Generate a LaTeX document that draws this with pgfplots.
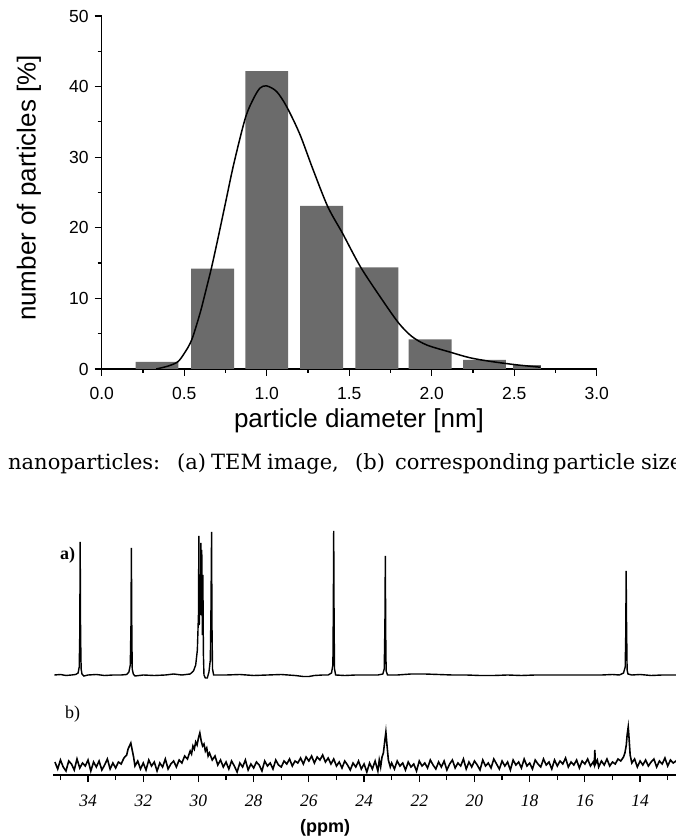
\documentclass[border=0pt]{standalone}
\usepackage{fontspec}
\setmainfont{Liberation Serif}
\newfontfamily\arial{Liberation Sans}
\newfontfamily\capfont{DejaVu Serif}
\usepackage{pgfplots}
\pgfplotsset{compat=1.18}

\begin{document}
\begin{tikzpicture}[x=1pt,y=1pt]
\useasboundingbox (0,0) rectangle (676,840);

% particle size histogram
\begin{axis}[
  at={(101.7pt,471pt)}, anchor=south west,
  scale only axis, width=495pt, height=353pt,
  xmin=0, xmax=3, ymin=0, ymax=50,
  axis lines*=left,
  axis line style={line width=1.3pt},
  tick align=outside,
  xtick={0,0.5,1,1.5,2,2.5,3},
  xticklabels={0.0,0.5,1.0,1.5,2.0,2.5,3.0},
  minor xtick={0.25,0.75,1.25,1.75,2.25,2.75},
  ytick={0,10,20,30,40,50},
  yticklabels={0,10,20,30,40,50},
  minor ytick={5,15,25,35,45},
  major tick length=7pt, minor tick length=4pt,
  tick style={line width=1.2pt, black},
  tick label style={font=\arial\fontsize{17.5}{17.5}\selectfont, inner sep=0pt},
  xticklabel shift=11pt, yticklabel shift=6pt,
  xlabel={particle diameter [nm]},
  ylabel={number of particles [\%]},
  every axis x label/.style={at={(axis description cs:0.5198,-0.1671)}, anchor=base,
    font=\arial\fontsize{26}{26}\selectfont},
  every axis y label/.style={at={(axis description cs:-0.1469,0.5127)}, rotate=90, anchor=center,
    font=\arial\fontsize{26}{26}\selectfont},
  clip=false,
]
\addplot[ybar, bar width=0.26, bar shift=0pt, fill=black!58, draw=none]
  coordinates {(0.335,1.0) (0.672,14.2) (1.0,42.2) (1.333,23.1) (1.668,14.4) (1.99,4.2) (2.32,1.3)};
\addplot[ybar, bar width=0.17, bar shift=0pt, fill=black!58, draw=none]
  coordinates {(2.575,0.5)};
\addplot[black, line width=1.5pt, smooth] coordinates {
  (0.33,0) (0.40,0.4) (0.46,1.0) (0.50,2.2) (0.545,4.1) (0.596,7.9) (0.63,11)
  (0.664,14.2) (0.70,18) (0.75,23.5) (0.80,29) (0.87,35.5) (0.92,38.3) (0.96,39.8)
  (1.0,40.1) (1.06,39.3) (1.12,37.2) (1.2,33.3) (1.28,28.3) (1.37,23) (1.46,19.2)
  (1.57,14.4) (1.70,9.8) (1.80,6.5) (1.88,4.6) (1.97,3.4) (2.11,2.4) (2.23,1.6)
  (2.35,1.1) (2.51,0.6) (2.66,0.25)
};
\end{axis}

% 13C NMR spectra
\begin{axis}[
  at={(53pt,65pt)}, anchor=south west,
  scale only axis, width=628.5pt, height=260pt,
  xmin=12.5, xmax=35.27, ymin=0, ymax=260,
  x dir=reverse,
  axis x line*=bottom, axis y line=none,
  axis line style={line width=1.4pt},
  xtick={14,16,18,20,22,24,26,28,30,32,34},
  xticklabels={14,16,18,20,22,24,26,28,30,32,34},
  minor xtick={13,15,17,19,21,23,25,27,29,31,33,35},
  xtick align=outside,
  major tick length=7pt, minor tick length=5pt,
  tick style={line width=1.2pt, black},
  xticklabel style={font=\itshape\fontsize{17.5}{17.5}\selectfont, inner sep=0pt},
  xticklabel shift=13pt,
  xlabel={(ppm)},
  every axis x label/.style={at={(axis description cs:0.4328,-0.223)}, anchor=base,
    font=\arial\bfseries\fontsize{18}{18}\selectfont},
  clip=false,
]
% a)
\addplot[black, line width=1.4pt] coordinates {
  (35.22,100) (35.0,100.5) (34.8,99.5) (34.6,100) (34.45,100.5) (34.36,102) (34.32,108)
  (34.30,140) (34.285,233) (34.27,140) (34.25,106) (34.22,101) (34.15,99) (34.0,100)
  (33.7,100.5) (33.4,99.5) (33.1,100) (32.8,100) (32.6,100.5) (32.52,103) (32.47,110)
  (32.445,150) (32.43,227) (32.415,150) (32.40,106) (32.36,101) (32.3,99) (32.0,100)
  (31.6,99.5) (31.2,100) (30.9,101) (30.6,100) (30.3,101) (30.18,104) (30.10,110)
  (30.04,125) (30.0,160) (29.985,239) (29.97,150) (29.95,190) (29.93,160) (29.91,232)
  (29.895,170) (29.88,225) (29.86,140) (29.84,200) (29.82,120) (29.80,100) (29.75,97)
  (29.68,97) (29.62,103) (29.57,115) (29.545,170) (29.525,243) (29.51,150) (29.49,106)
  (29.45,100) (29.0,100) (28.5,100.5) (28.0,99.5) (27.5,100) (27.0,100.5) (26.5,99.5)
  (26.2,98.5) (26.0,98.5) (25.8,99.5) (25.5,100) (25.3,100) (25.18,102) (25.13,110)
  (25.115,160) (25.10,244) (25.085,150) (25.07,106) (25.03,100) (24.7,99.5) (24.3,100)
  (23.9,100) (23.5,100) (23.32,101) (23.27,106) (23.245,150) (23.23,219) (23.215,140)
  (23.20,104) (23.15,100) (22.8,100) (22.3,101) (21.8,101) (21.3,100.5) (20.8,100)
  (20.3,100) (19.8,99.5) (19.3,99.5) (18.8,100) (18.3,99.5) (17.8,100) (17.3,100)
  (16.8,100) (16.3,100) (15.8,100) (15.4,100) (15.0,100.5) (14.75,100) (14.6,102)
  (14.54,108) (14.52,140) (14.505,204) (14.49,150) (14.47,105) (14.44,101) (14.3,100)
  (14.0,100.5) (13.6,99.5) (13.2,100) (12.8,100) (12.5,100)
};
% b)
\addplot[black, line width=1.6pt] coordinates {
  (35.2,13) (35.1,6) (35.0,15) (34.9,8) (34.8,4) (34.7,14) (34.6,11) (34.5,5) (34.4,16)
  (34.3,7) (34.2,12) (34.1,9) (34.0,15) (33.9,4) (33.8,13) (33.7,8) (33.6,14) (33.5,5)
  (33.4,10) (33.3,16) (33.2,6) (33.1,12) (33.0,7)
  (32.9,13) (32.8,11) (32.7,17) (32.6,20) (32.55,26) (32.5,29) (32.45,32) (32.4,25)
  (32.35,18) (32.3,9) (32.2,14) (32.1,6) (32.0,12)
  (31.9,5) (31.8,15) (31.7,9) (31.6,13) (31.5,4) (31.4,12) (31.3,8) (31.2,16) (31.1,6)
  (31.0,11) (30.9,14) (30.8,8)
  (30.7,15) (30.6,12) (30.5,19) (30.4,16) (30.3,24) (30.25,21) (30.2,29) (30.15,26)
  (30.1,33) (30.05,30) (30.0,37) (29.95,42) (29.9,34) (29.85,29) (29.8,31) (29.75,24)
  (29.7,27) (29.65,19) (29.6,22) (29.5,15) (29.4,19) (29.3,10) (29.2,15) (29.1,8) (29.0,13)
  (28.9,6) (28.8,14) (28.7,9) (28.6,3) (28.5,12) (28.4,8) (28.3,15) (28.2,5) (28.1,11)
  (28.0,7) (27.9,13) (27.8,10) (27.7,4) (27.6,14) (27.5,9) (27.4,12) (27.3,6) (27.2,15)
  (27.1,10) (27.0,8) (26.9,14) (26.8,11) (26.7,16) (26.6,9) (26.5,14) (26.4,12)
  (26.3,17) (26.2,11) (26.1,18) (26.0,14) (25.9,19) (25.8,12) (25.7,18) (25.6,15)
  (25.5,20) (25.4,13) (25.3,17) (25.2,11) (25.1,16) (25.0,9)
  (24.9,13) (24.8,7) (24.7,14) (24.6,10) (24.5,5) (24.4,12) (24.3,8) (24.2,14) (24.1,6)
  (24.0,11) (23.9,3) (23.8,12) (23.7,6) (23.6,14)
  (23.5,4) (23.45,15) (23.4,8) (23.35,18) (23.3,22) (23.25,34) (23.21,43) (23.17,30)
  (23.12,15) (23.05,8) (23.0,12)
  (22.9,6) (22.8,14) (22.7,9) (22.6,12) (22.5,5) (22.4,13) (22.3,8) (22.2,11) (22.1,4)
  (22.0,14) (21.9,9) (21.8,12) (21.7,7) (21.6,15) (21.5,10) (21.4,6) (21.3,13) (21.2,8)
  (21.1,14) (21.0,5) (20.9,11) (20.8,15) (20.7,7) (20.6,12) (20.5,9) (20.4,16) (20.3,6)
  (20.2,13) (20.1,8) (20.0,14) (19.9,10) (19.8,5) (19.7,15) (19.6,9) (19.5,12) (19.4,7)
  (19.3,16) (19.2,11) (19.1,6) (19.0,14) (18.9,9) (18.8,13) (18.7,5) (18.6,15) (18.5,10)
  (18.4,13) (18.3,7) (18.2,16) (18.1,9) (18.0,12) (17.9,6) (17.8,15) (17.7,11) (17.6,8)
  (17.5,16) (17.4,10) (17.3,13) (17.2,6) (17.1,15) (17.0,9) (16.9,14) (16.8,11) (16.7,17)
  (16.6,8) (16.5,13) (16.4,10) (16.3,15) (16.2,7) (16.1,14) (16.0,11) (15.9,16) (15.8,9)
  (15.7,13) (15.66,10) (15.64,25) (15.62,11) (15.55,15) (15.5,8) (15.4,14) (15.3,10)
  (15.2,16) (15.1,9) (15.0,13) (14.9,11) (14.8,16) (14.7,14) (14.6,18) (14.55,22)
  (14.5,30) (14.47,40) (14.43,48) (14.4,37) (14.36,20) (14.3,12) (14.2,16) (14.1,8)
  (14.0,14) (13.9,10) (13.8,15) (13.7,9) (13.6,13) (13.5,16) (13.4,8) (13.3,14) (13.2,11)
  (13.1,17) (13.0,9) (12.9,15) (12.8,12) (12.7,14) (12.6,10)
};
\end{axis}

\node[anchor=base west, inner sep=0pt, font=\bfseries\fontsize{18}{18}\selectfont] at (60,280) {a)};
\node[anchor=base west, inner sep=0pt, font=\fontsize{18}{18}\selectfont] at (65,121) {b)};

% caption line of the page (cut off at the right edge, as in the scan)
\begin{scope}[every node/.style={anchor=base west, inner sep=0pt, font=\capfont\fontsize{21}{21}\selectfont}]
\node at (8,370) {nanoparticles:};
\node at (177,370) {(a)};
\node at (211,370) {TEM};
\node at (267,370) {image,};
\node at (355,370) {(b)};
\node at (395,370) {corresponding};
\node at (553,370) {particle};
\node at (641,370) {size};
\end{scope}
\end{tikzpicture}
\end{document}
